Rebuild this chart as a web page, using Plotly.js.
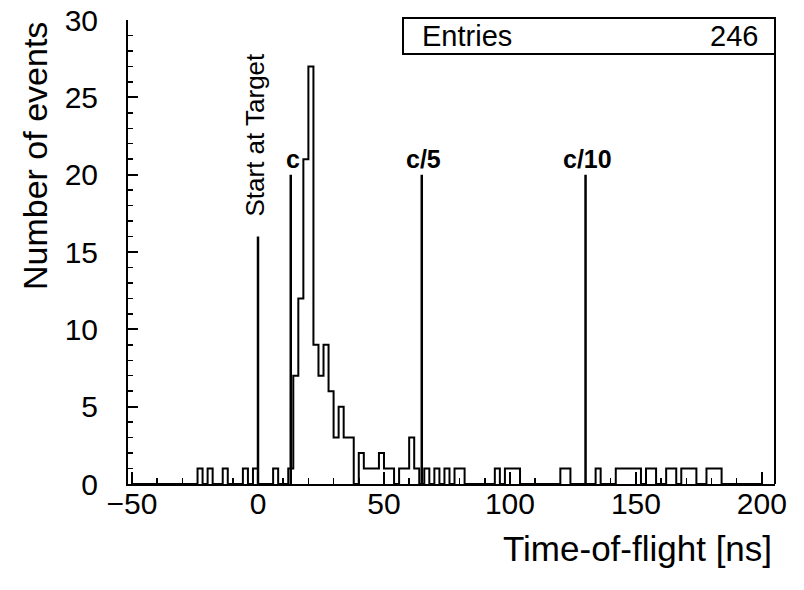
<!DOCTYPE html>
<html>
<head>
<meta charset="utf-8">
<script src="https://cdn.plot.ly/plotly-3.0.1.min.js"></script>
<style>html,body{margin:0;padding:0;background:#fff;}#chart{width:804px;height:590px;}</style>
</head>
<body>
<div id="chart"></div>
<script>
// Histogram: 2 ns bins from -50 to 200 ns (lower bin edges with non-zero counts)
const binStart = -50;
const binEnd = 200;
const binWidth = 2;
const tofBinLow = [-24, -20, -14, -6, -2, 6, 12, 14, 16, 18, 20, 22, 24, 26, 28, 30, 32, 34, 36,
  40, 42, 44, 46, 48, 50, 52, 56, 58, 60, 62, 66, 70, 74, 78, 80,
  94, 98, 100, 102, 120, 122, 134, 142, 144, 146, 148, 150, 154, 156,
  162, 164, 168, 170, 172, 178, 180, 182];
const tofCounts = [1, 1, 1, 1, 1, 1, 1, 7, 12, 21, 27, 9, 7, 9, 6, 3, 5, 3, 3,
  2, 1, 1, 1, 2, 1, 1, 1, 1, 3, 1, 1, 1, 1, 1, 1,
  1, 1, 1, 1, 1, 1, 1, 1, 1, 1, 1, 1, 1, 1,
  1, 1, 1, 1, 1, 1, 1, 1];

// Reference markers
const markerX = [0, 13, 65, 130];
const markerH = [16, 20, 20, 20];
const markerLabels = ["Start at Target", "c", "c/5", "c/10"];

const entriesLabel = "Entries";
const entriesValue = "246";

// Build the step outline from the bin table
const nBins = Math.round((binEnd - binStart) / binWidth);
const full = new Array(nBins).fill(0);
tofBinLow.forEach((lo, i) => {
  const k = Math.round((lo - binStart) / binWidth);
  full[k] = tofCounts[i];
});
const hx = [], hy = [];
for (let k = 0; k < nBins; k++) { hx.push(binStart + k * binWidth); hy.push(full[k]); }
hx.push(binEnd); hy.push(full[nBins - 1]);

const traces = [{
  x: hx, y: hy, type: 'scatter', mode: 'lines',
  line: {shape: 'hv', color: '#000', width: 2},
  hoverinfo: 'skip', showlegend: false
}];
markerX.forEach((mx, i) => {
  traces.push({
    x: [mx, mx], y: [0, markerH[i]], type: 'scatter', mode: 'lines',
    line: {color: '#000', width: 2.5}, hoverinfo: 'skip', showlegend: false
  });
});

const W = 647, H = 464; // plot area size in px
const ann = [];
ann.push({text: 'Number of events', xref: 'paper', yref: 'paper', x: (35 - 128) / W, y: (484 - 156) / H,
  xanchor: 'center', yanchor: 'middle', textangle: -90, showarrow: false, font: {size: 34, color: '#000'}});
ann.push({text: 'Time-of-flight [ns]', xref: 'paper', yref: 'paper', x: (774 - 128) / W, y: (484 - 548) / H,
  xanchor: 'right', yanchor: 'middle', showarrow: false, font: {size: 35, color: '#000'}});
markerX.forEach((mx, i) => {
  if (i === 0) {
    ann.push({text: markerLabels[i], x: mx, y: markerH[i], xref: 'x', yref: 'y', xanchor: 'center', yanchor: 'bottom',
      textangle: -90, yshift: 18, xshift: -3, showarrow: false, font: {size: 26, color: '#000'}});
  } else {
    ann.push({text: '<b>' + markerLabels[i] + '</b>', x: mx, y: markerH[i], xref: 'x', yref: 'y', xanchor: 'center', yanchor: 'bottom',
      yshift: 0, xshift: 2, showarrow: false, font: {size: 25, color: '#000'}});
  }
});
ann.push({text: entriesLabel, xref: 'paper', yref: 'paper', x: (420 - 128) / W, y: (484 - 36) / H,
  xanchor: 'left', yanchor: 'middle', showarrow: false, font: {size: 29, color: '#000'}});
ann.push({text: entriesValue, xref: 'paper', yref: 'paper', x: (760 - 128) / W, y: (484 - 36) / H,
  xanchor: 'right', yanchor: 'middle', showarrow: false, font: {size: 29, color: '#000'}});

const layout = {
  width: 804, height: 590,
  margin: {l: 128, r: 29, t: 20, b: 106},
  paper_bgcolor: '#fff', plot_bgcolor: '#fff',
  font: {family: 'Liberation Sans, Arial, sans-serif', color: '#000'},
  showlegend: false,
  xaxis: {
    range: [-51.6, 205.2], tick0: 0, dtick: 50, ticks: 'inside', ticklen: 12, tickwidth: 2, tickcolor: '#000',
    showline: true, linewidth: 2, linecolor: '#000', showgrid: false, zeroline: false,
    tickfont: {size: 30, color: '#000'}, ticklabelstandoff: -8,
    minor: {dtick: 10, tick0: 0, ticks: 'inside', ticklen: 6, tickwidth: 1.5, tickcolor: '#000', showgrid: false}
  },
  yaxis: {
    range: [0, 30], tick0: 0, dtick: 5, ticks: 'inside', ticklen: 10, tickwidth: 2, tickcolor: '#000',
    showline: true, linewidth: 2, linecolor: '#000', showgrid: false, zeroline: false,
    tickfont: {size: 30, color: '#000'}, ticklabelstandoff: 22,
    minor: {dtick: 1, tick0: 0, ticks: 'inside', ticklen: 5, tickwidth: 1.5, tickcolor: '#000', showgrid: false}
  },
  shapes: [
    {type: 'rect', xref: 'paper', yref: 'paper', x0: (403 - 128) / W, x1: 1, y0: (484 - 54) / H, y1: (484 - 18) / H,
      line: {color: '#000', width: 2}, fillcolor: 'rgba(0,0,0,0)'},
    {type: 'line', xref: 'paper', yref: 'paper', x0: 1, x1: 1, y0: 0, y1: (484 - 54) / H,
      line: {color: '#000', width: 2}}
  ],
  annotations: ann
};

Plotly.newPlot('chart', traces, layout, {staticPlot: true, displayModeBar: false});
</script>
</body>
</html>
